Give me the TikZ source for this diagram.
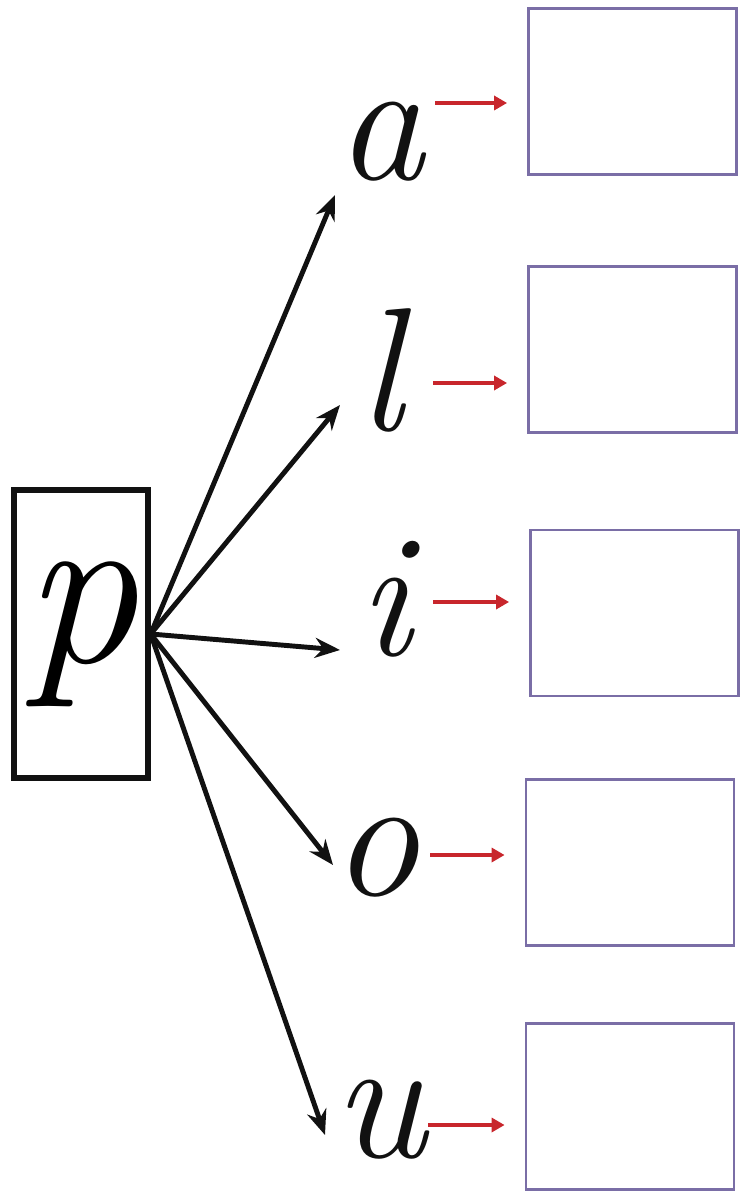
\documentclass[tikz,border=0pt]{standalone}
\usepackage{fontspec}
\usepackage{xcolor}
\definecolor{cInk}{HTML}{111111}
\definecolor{cRed}{HTML}{C8262C}
\definecolor{cBox}{HTML}{7A6EA6}
\usepackage{tikz}
\usetikzlibrary{positioning,arrows.meta,calc}
\tikzset{
  node-root/.style={draw=cInk,line width=3pt,minimum width=2.68cm,
    minimum height=5.76cm,inner sep=0pt,
    font=\itshape\fontsize{130}{130}\selectfont},
  node-letter/.style={anchor=base,inner sep=0pt,text=cInk,
    font=\itshape\fontsize{100}{100}\selectfont},
  node-blank/.style={draw=cBox,line width=1.6pt,minimum width=4.16cm,
    minimum height=3.32cm},
  arrow/.style={-{Stealth[length=5mm,width=4mm]},line width=2.8pt,draw=cInk},
  arrow-red/.style={-{Triangle[length=2.6mm,width=2.8mm]},line width=2.2pt,
    draw=cRed,shorten >=0.4cm},
}
\begin{document}
\begin{tikzpicture}
  \useasboundingbox (0,0) rectangle (14.9,-23.94);
  % root letter
  \node[node-root] (p) at (1.62,-12.68) {\raisebox{-0.3cm}{p}};
  % vowels
  \node[node-letter] (a) at (7.6,-3.6) {a};
  \node[node-letter] (l) at (7.6,-8.6) {l};
  \node[node-letter] (i) at (7.7,-13.1) {i};
  \node[node-letter] (o) at (7.5,-17.9) {o};
  \node[node-letter] (u) at (7.6,-23.15) {u};
  % empty answer boxes
  \node[node-blank] (ba) at (12.65,-1.83) {};
  \node[node-blank] (bl) at (12.65,-6.99) {};
  \node[node-blank] (bi) at (12.69,-12.26) {};
  \node[node-blank] (bo) at (12.60,-17.25) {};
  \node[node-blank] (bu) at (12.60,-22.13) {};
  % arrow tips of the fan
  \coordinate (ta) at (6.70,-3.90);
  \coordinate (tl) at (6.80,-8.10);
  \coordinate (ti) at (6.80,-13.00);
  \coordinate (to) at (6.66,-17.30);
  \coordinate (tu) at (6.50,-22.70);
  \draw[arrow] (p.east) -- (ta);
  \draw[arrow] (p.east) -- (tl);
  \draw[arrow] (p.east) -- (ti);
  \draw[arrow] (p.east) -- (to);
  \draw[arrow] (p.east) -- (tu);
  % red arrows to the boxes
  \coordinate (ra) at (8.70,-2.06);
  \coordinate (rl) at (8.66,-7.66);
  \coordinate (ri) at (8.66,-12.04);
  \coordinate (ro) at (8.60,-17.10);
  \coordinate (ru) at (8.56,-22.50);
  \draw[arrow-red] (ra) -- (ba.west |- ra);
  \draw[arrow-red] (rl) -- (bl.west |- rl);
  \draw[arrow-red] (ri) -- (bi.west |- ri);
  \draw[arrow-red] (ro) -- (bo.west |- ro);
  \draw[arrow-red] (ru) -- (bu.west |- ru);
\end{tikzpicture}
\end{document}
